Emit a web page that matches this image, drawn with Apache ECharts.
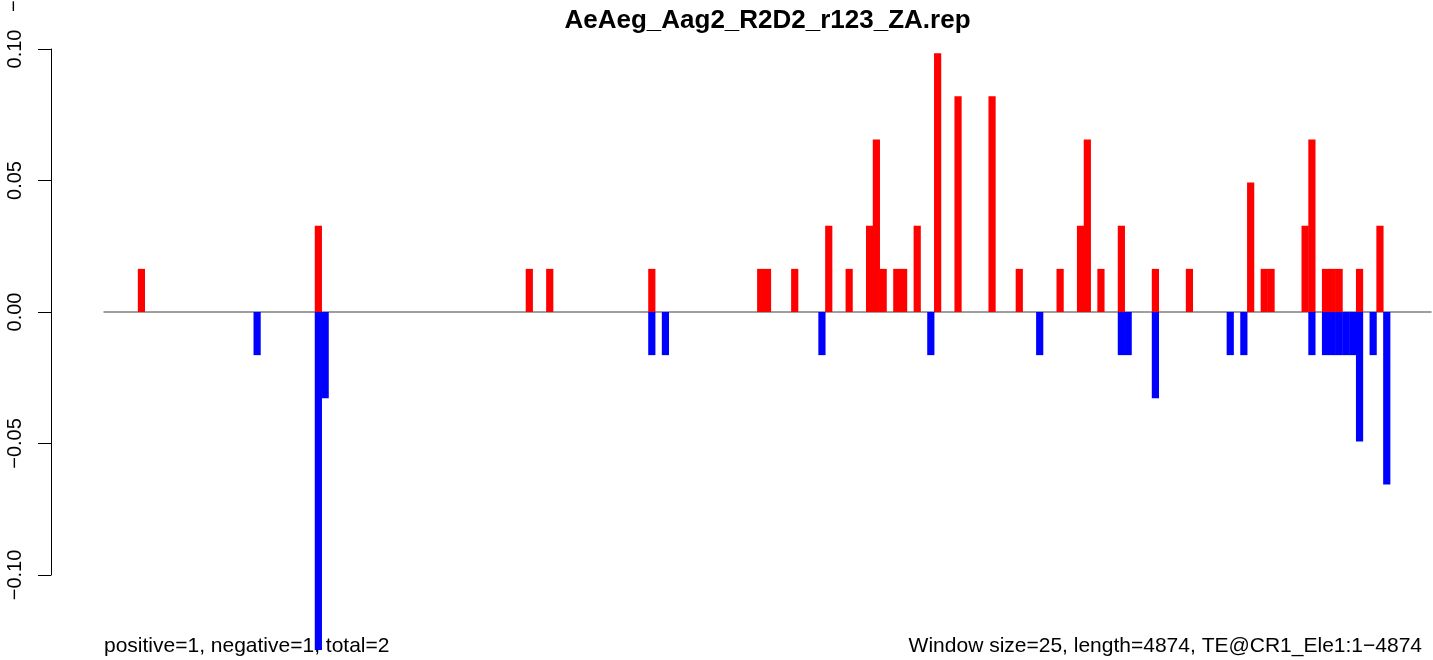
<!DOCTYPE html>
<html>
<head>
<meta charset="utf-8">
<title>AeAeg_Aag2_R2D2_r123_ZA.rep</title>
<script src="https://cdn.jsdelivr.net/npm/echarts@6/dist/echarts.min.js"></script>
<style>
  html, body { margin: 0; padding: 0; background: #ffffff; }
  #chart { width: 1433px; height: 660px; }
</style>
</head>
<body>
<div id="chart"></div>
<script>
// Sequence windows: 4874 bp split into 25 bp windows
const windowSize = 25;
const seqLength = 4874;

// Windows (0-based) with positive-strand signal, and their values
const posWindows = [5, 31, 62, 65, 80, 96, 97, 101, 106, 109, 112, 113, 114, 116, 117, 119, 122, 125, 130, 134,
                    140, 143, 144, 146, 149, 154, 159, 168, 170, 171, 176, 177, 179, 180, 181, 184, 187];
const posValues  = [0.0164, 0.0328, 0.0164, 0.0164, 0.0164, 0.0164, 0.0164, 0.0164, 0.0328, 0.0164,
                    0.0328, 0.0656, 0.0164, 0.0164, 0.0164, 0.0328, 0.0984, 0.082, 0.082, 0.0164,
                    0.0164, 0.0328, 0.0656, 0.0164, 0.0328, 0.0164, 0.0164, 0.0492, 0.0164, 0.0164,
                    0.0328, 0.0656, 0.0164, 0.0164, 0.0164, 0.0164, 0.0328];

// Windows (0-based) with negative-strand signal, and their values
const negWindows = [22, 31, 32, 80, 82, 105, 121, 137, 149, 150, 154, 165, 167, 177,
                    179, 180, 181, 182, 183, 184, 186, 188];
const negValues  = [-0.0164, -0.1285, -0.0328, -0.0164, -0.0164, -0.0164, -0.0164, -0.0164, -0.0164, -0.0164,
                    -0.0328, -0.0164, -0.0164, -0.0164, -0.0164, -0.0164, -0.0164, -0.0164, -0.0164, -0.0492,
                    -0.0164, -0.0656];

// Y axis ticks
const yTicks = [-0.10, -0.05, 0.00, 0.05, 0.10];

const titleText = 'AeAeg_Aag2_R2D2_r123_ZA.rep';
const footLeft = 'positive=1, negative=1, total=2';
const footRight = 'Window size=25, length=4874, TE@CR1_Ele1:1\u22124874';

// Category per window (window start in bp)
const windowCount = Math.ceil(seqLength / windowSize);
const categories = [];
for (let i = 0; i < windowCount; i++) categories.push(String(i * windowSize + 1));

function spread(idx, vals) {
  const arr = new Array(windowCount).fill(null);
  idx.forEach((w, k) => { arr[w] = vals[k]; });
  return arr;
}

const FONT = '"Liberation Sans", Arial, Helvetica, sans-serif';
const chart = echarts.init(document.getElementById('chart'), null, { renderer: 'canvas' });

chart.setOption({
  animation: false,
  backgroundColor: '#ffffff',
  grid: { left: 104, right: 2, top: 49, bottom: 85, containLabel: false },
  xAxis: {
    type: 'category',
    data: categories,
    boundaryGap: true,
    axisLine: { onZero: true, lineStyle: { color: '#808080', width: 1.5 } },
    axisTick: { show: false },
    axisLabel: { show: false },
    splitLine: { show: false }
  },
  yAxis: {
    type: 'value',
    min: yTicks[0],
    max: yTicks[yTicks.length - 1],
    interval: 0.05,
    offset: 53,
    axisLine: { show: true, lineStyle: { color: '#000000', width: 1 } },
    axisTick: { show: true, length: 13, lineStyle: { color: '#000000', width: 1 } },
    axisLabel: {
      rotate: 90,
      margin: 26,
      color: '#000000',
      fontFamily: FONT,
      fontSize: 20,
      formatter: v => (v < 0 ? '\u2212' : '') + Math.abs(v).toFixed(2)
    },
    splitLine: { show: false }
  },
  series: [
    {
      name: 'positive',
      type: 'bar',
      data: spread(posWindows, posValues),
      barWidth: 7.2,
      barGap: '-100%',
      itemStyle: { color: '#ff0000' },
      clip: false
    },
    {
      name: 'negative',
      type: 'bar',
      data: spread(negWindows, negValues),
      barWidth: 7.2,
      barGap: '-100%',
      itemStyle: { color: '#0000ff' },
      clip: false
    }
  ],
  graphic: [
    {
      type: 'text', x: 767.5, y: 21, z: 10,
      style: { text: titleText, textAlign: 'center', textVerticalAlign: 'middle',
               font: 'bold 26px ' + FONT, fill: '#000000' }
    },
    {
      type: 'text', x: 104, y: 646, z: 10,
      style: { text: footLeft, textAlign: 'left', textVerticalAlign: 'middle',
               font: '21px ' + FONT, fill: '#000000' }
    },
    {
      type: 'text', x: 1422, y: 646, z: 10,
      style: { text: footRight, textAlign: 'right', textVerticalAlign: 'middle',
               font: '21px ' + FONT, fill: '#000000' }
    },
    {
      type: 'text', x: 14, y: 12, rotation: Math.PI / 2, z: 10,
      style: { text: '\u22120.10', textAlign: 'left', textVerticalAlign: 'middle',
               font: '20px ' + FONT, fill: '#000000' }
    }
  ]
});
</script>
</body>
</html>
